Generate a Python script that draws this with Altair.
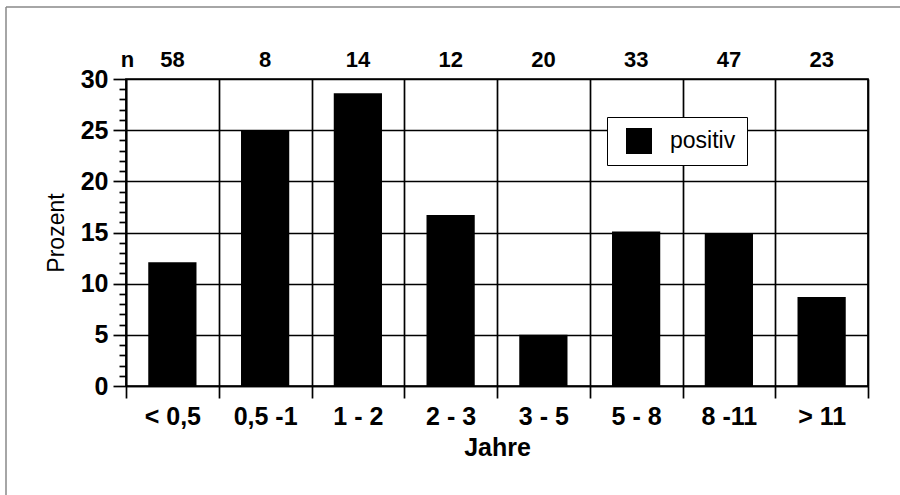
import altair as alt
import pandas as pd

# ---- data ----
categories = ["< 0,5", "0,5 -1", "1 - 2", "2 - 3", "3 - 5", "5 - 8", "8 -11", "> 11"]
prozent = [12.1, 25.0, 28.6, 16.7, 5.0, 15.1, 14.9, 8.7]
n_values = [58, 8, 14, 12, 20, 33, 47, 23]
series_name = "positiv"
y_ticks = list(range(0, 31))

df = pd.DataFrame({"Jahre": categories, "Prozent": prozent, "n": n_values,
                   "Serie": [series_name] * len(categories)})

FONT = "Liberation Sans"
W, H = 742, 307
PL, PT = 126, 79

x_enc = alt.X(
    "Jahre:N", sort=categories,
    scale=alt.Scale(paddingInner=0, paddingOuter=0),
    axis=alt.Axis(
        tickBand="extent", grid=True, gridColor="black", gridWidth=1.7,
        tickSize=12, tickColor="black", tickWidth=1.7,
        domainColor="black", domainWidth=1.7,
        labelAngle=0, labelFont=FONT, labelFontSize=25, labelFontWeight="bold",
        labelColor="black", labelPadding=6,
        title="Jahre", titleFont=FONT, titleFontSize=25, titleFontWeight="bold",
        titleColor="black", titlePadding=6,
    ),
)

bars = alt.Chart(df).mark_bar(color="black", width=alt.RelativeBandSize(0.52)).encode(
    x=x_enc,
    y=alt.Y(
        "Prozent:Q",
        scale=alt.Scale(domain=[0, 30], nice=False),
        axis=alt.Axis(
            values=y_ticks,
            labelExpr="datum.value % 5 === 0 ? datum.label : ''",
            labelOverlap=False,
            tickSize={"condition": {"test": "datum.value % 5 === 0", "value": 13}, "value": 7},
            gridOpacity={"condition": {"test": "datum.value % 5 === 0", "value": 1}, "value": 0},
            gridColor="black", gridWidth=1.7,
            tickColor="black", tickWidth=1.7,
            domainColor="black", domainWidth=1.7,
            labelFont=FONT, labelFontSize=25, labelFontWeight="bold",
            labelColor="black", labelPadding=5,
            title="Prozent", titleFont=FONT, titleFontSize=23, titleFontWeight="normal",
            titleColor="black", titleX=-70, titleY=H / 2, titleAngle=270,
            titleAlign="center", titleBaseline="middle",
        ),
    ),
    color=alt.Color(
        "Serie:N",
        scale=alt.Scale(domain=[series_name], range=["black"]),
        legend=alt.Legend(
            title=None, orient="none", legendX=481, legendY=38,
            symbolType="square", symbolSize=676, symbolStrokeWidth=0,
            labelFont=FONT, labelFontSize=23, labelColor="black",
            padding=11, symbolOffset=8, labelOffset=18,
            strokeColor="black", fillColor="white", cornerRadius=0,
        ),
    ),
)

n_text = alt.Chart(df).mark_text(
    font=FONT, fontSize=22, fontWeight="bold", color="black", baseline="middle"
).encode(
    x=alt.X("Jahre:N", sort=categories),
    y=alt.value(-19),
    text="n:Q",
)

n_head = alt.Chart(pd.DataFrame({"label": ["n"]})).mark_text(
    font=FONT, fontSize=22, fontWeight="bold", color="black", baseline="middle"
).encode(x=alt.value(1.5), y=alt.value(-19), text="label:N")

frame_top = alt.Chart(pd.DataFrame({"k": [0]})).mark_rule(
    color="#888888", strokeWidth=1.5
).encode(x=alt.value(-120), x2=alt.value(900 - PL), y=alt.value(-72))

frame_left = alt.Chart(pd.DataFrame({"k": [0]})).mark_rule(
    color="#888888", strokeWidth=1.5
).encode(x=alt.value(-120), y=alt.value(-72), y2=alt.value(495 - PT))

chart = alt.layer(bars, n_text, n_head, frame_top, frame_left).properties(
    width=W, height=H,
    autosize=alt.AutoSizeParams(type="none"),
    padding={"left": PL, "top": PT, "right": 900 - PL - W, "bottom": 495 - PT - H},
    background="white",
).configure_view(stroke="black", strokeWidth=1.7)

chart.save("out.html", embed_options={"renderer": "svg", "actions": False})
